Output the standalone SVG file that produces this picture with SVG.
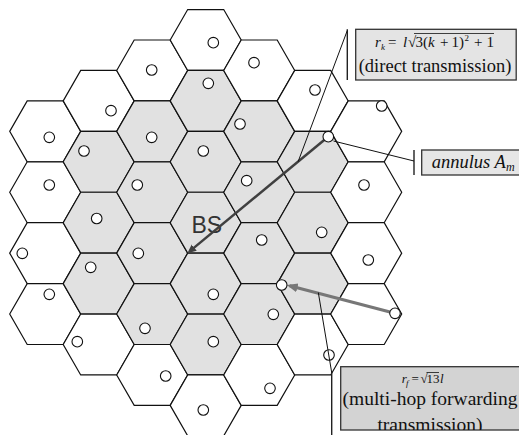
<svg xmlns="http://www.w3.org/2000/svg" width="519" height="435" viewBox="0 0 519 435">
<style>
.cell{stroke:#111;stroke-width:1.2}
.w{fill:#fff}
.g{fill:#e1e1e1}
.node circle{fill:#fff;stroke:#111;stroke-width:1.1}
.thin{stroke:#111;stroke-width:1;fill:none}
.bar{stroke:#222;stroke-width:1.4}
.box{stroke:#333;stroke-width:1.3}
.serif{font-family:"Liberation Serif","Times New Roman",serif;fill:#111}
.it{font-style:italic}
</style>
<defs>
<polygon id="hex" points="-35.5,0 -18,-30.45 18,-30.45 35.5,0 18,30.45 -18,30.45"/>
<marker id="ak" markerUnits="userSpaceOnUse" markerWidth="10" markerHeight="9" refX="6" refY="4" orient="auto"><path d="M0,0 L9,4 L0,8 z" fill="#404040"/></marker>
<marker id="af" markerUnits="userSpaceOnUse" markerWidth="12" markerHeight="10" refX="8" refY="4.5" orient="auto"><path d="M0,0 L11,4.5 L0,9 z" fill="#777"/></marker>
<clipPath id="cf"><rect x="340.7" y="366.7" width="180" height="63.3"/></clipPath>
</defs>

<g id="cells">
<use href="#hex" x="45.2" y="131.35" class="cell w"/>
<use href="#hex" x="45.2" y="192.25" class="cell w"/>
<use href="#hex" x="45.2" y="253.15" class="cell w"/>
<use href="#hex" x="45.2" y="314.05" class="cell w"/>
<use href="#hex" x="98.7" y="100.9" class="cell w"/>
<use href="#hex" x="98.7" y="161.8" class="cell g"/>
<use href="#hex" x="98.7" y="222.7" class="cell g"/>
<use href="#hex" x="98.7" y="283.6" class="cell g"/>
<use href="#hex" x="98.7" y="344.5" class="cell w"/>
<use href="#hex" x="152.2" y="70.45" class="cell w"/>
<use href="#hex" x="152.2" y="131.35" class="cell g"/>
<use href="#hex" x="152.2" y="192.25" class="cell g"/>
<use href="#hex" x="152.2" y="253.15" class="cell g"/>
<use href="#hex" x="152.2" y="314.05" class="cell g"/>
<use href="#hex" x="152.2" y="374.95" class="cell w"/>
<use href="#hex" x="205.7" y="40" class="cell w"/>
<use href="#hex" x="205.7" y="100.9" class="cell g"/>
<use href="#hex" x="205.7" y="161.8" class="cell g"/>
<use href="#hex" x="205.7" y="222.7" class="cell g"/>
<use href="#hex" x="205.7" y="283.6" class="cell g"/>
<use href="#hex" x="205.7" y="344.5" class="cell g"/>
<use href="#hex" x="205.7" y="405.4" class="cell w"/>
<use href="#hex" x="259.2" y="70.45" class="cell w"/>
<use href="#hex" x="259.2" y="131.35" class="cell g"/>
<use href="#hex" x="259.2" y="192.25" class="cell g"/>
<use href="#hex" x="259.2" y="253.15" class="cell g"/>
<use href="#hex" x="259.2" y="314.05" class="cell g"/>
<use href="#hex" x="259.2" y="374.95" class="cell w"/>
<use href="#hex" x="312.7" y="100.9" class="cell w"/>
<use href="#hex" x="312.7" y="161.8" class="cell g"/>
<use href="#hex" x="312.7" y="222.7" class="cell g"/>
<use href="#hex" x="312.7" y="283.6" class="cell g"/>
<use href="#hex" x="312.7" y="344.5" class="cell w"/>
<use href="#hex" x="366.2" y="131.35" class="cell w"/>
<use href="#hex" x="366.2" y="192.25" class="cell w"/>
<use href="#hex" x="366.2" y="253.15" class="cell w"/>
<use href="#hex" x="366.2" y="314.05" class="cell w"/>
</g>

<g id="bs">
<text x="191.5" y="233.3" font-family="'Liberation Sans', Arial, sans-serif" font-size="23" fill="#333">BS</text>
</g>

<g id="connectors">
<line x1="324.5" y1="139.8" x2="189.6" y2="251.4" stroke="#404040" stroke-width="2.5" marker-end="url(#ak)"/>
<line x1="390" y1="312" x2="289.6" y2="285.8" stroke="#777" stroke-width="3" marker-end="url(#af)"/>
</g>

<g id="nodes" class="node">
<g id="u1"><circle cx="49.3" cy="137.3" r="5.3"/></g>
<g id="u2"><circle cx="49.3" cy="185" r="5.3"/></g>
<g id="u3"><circle cx="22.3" cy="253.3" r="5.3"/></g>
<g id="u4"><circle cx="49.3" cy="294.3" r="5.3"/></g>
<g id="u5"><circle cx="111" cy="110.7" r="5.3"/></g>
<g id="u6"><circle cx="84" cy="151" r="5.3"/></g>
<g id="u7"><circle cx="96.7" cy="218.5" r="5.3"/></g>
<g id="u8"><circle cx="90.7" cy="267.3" r="5.3"/></g>
<g id="u9"><circle cx="77.3" cy="341.7" r="5.3"/></g>
<g id="u10"><circle cx="151.7" cy="70" r="5.3"/></g>
<g id="u11"><circle cx="151.7" cy="137.3" r="5.3"/></g>
<g id="u12"><circle cx="137.3" cy="185" r="5.3"/></g>
<g id="u13"><circle cx="138.3" cy="253.3" r="5.3"/></g>
<g id="u14"><circle cx="145" cy="328.3" r="5.3"/></g>
<g id="u15"><circle cx="165.7" cy="376" r="5.3"/></g>
<g id="u16"><circle cx="213.3" cy="42.7" r="5.3"/></g>
<g id="u17"><circle cx="208.3" cy="83.3" r="5.3"/></g>
<g id="u18"><circle cx="203.3" cy="151" r="5.3"/></g>
<g id="u19"><circle cx="213.3" cy="294.3" r="5.3"/></g>
<g id="u20"><circle cx="213.3" cy="341.7" r="5.3"/></g>
<g id="u21"><circle cx="203.3" cy="410" r="5.3"/></g>
<g id="u22"><circle cx="254" cy="62.7" r="5.3"/></g>
<g id="u23"><circle cx="240" cy="124" r="5.3"/></g>
<g id="u24"><circle cx="246.7" cy="180.7" r="5.3"/></g>
<g id="u25"><circle cx="261.7" cy="240" r="5.3"/></g>
<g id="u26"><circle cx="273.3" cy="314.3" r="5.3"/></g>
<g id="u27"><circle cx="270" cy="388.3" r="5.3"/></g>
<g id="u28"><circle cx="315" cy="90" r="5.3"/></g>
<g id="u29"><circle cx="328.3" cy="136.7" r="5.3"/></g>
<g id="u30"><circle cx="321.7" cy="232.3" r="5.3"/></g>
<g id="u31"><circle cx="281.7" cy="285" r="5.3"/></g>
<g id="u32"><circle cx="329" cy="355" r="5.3"/></g>
<g id="u33"><circle cx="381.7" cy="106" r="5.3"/></g>
<g id="u34"><circle cx="364" cy="185" r="5.3"/></g>
<g id="u35"><circle cx="368.3" cy="260" r="5.3"/></g>
<g id="u36"><circle cx="395" cy="313.3" r="5.3"/></g>
</g>

<g id="callouts">
<line class="bar" x1="347.3" y1="29.3" x2="347.3" y2="80"/>
<line class="thin" x1="347.3" y1="30.5" x2="298.1" y2="161.7"/>
<line class="bar" x1="414" y1="150" x2="414" y2="175"/>
<line class="thin" x1="333.5" y1="141" x2="414" y2="161"/>
<line class="bar" x1="331.7" y1="372" x2="331.7" y2="435"/>
<line class="thin" x1="318.3" y1="292.5" x2="331.7" y2="372.5"/>
</g>

<g id="label-rk">
<rect class="box" x="355.7" y="29.3" width="160.5" height="50.7" fill="#e4e4e4"/>
<text class="serif" y="46.7" font-size="15">
<tspan class="it" x="375">r</tspan><tspan class="it" x="381" dy="3" font-size="9">k</tspan><tspan x="388" dy="-3">=</tspan><tspan class="it" x="403">l</tspan><tspan x="408">√</tspan><tspan x="415.5">3</tspan><tspan x="423">(</tspan><tspan class="it" x="428">k</tspan><tspan x="440">+</tspan><tspan x="451.5">1</tspan><tspan x="459">)</tspan><tspan x="464.5" dy="-6" font-size="9">2</tspan><tspan x="474" dy="6">+</tspan><tspan x="486.5">1</tspan>
</text>
<line x1="414" y1="33.5" x2="494" y2="33.5" stroke="#111" stroke-width="0.8"/>
<text class="serif" x="435" y="71.7" font-size="18.5" text-anchor="middle">(direct transmission)</text>
</g>

<g id="label-annulus">
<rect class="box" x="421.7" y="150" width="100" height="25" fill="#e6e6e6"/>
<text class="serif it" x="431.7" y="168.3" font-size="18.5">annulus A<tspan font-size="12" dy="3">m</tspan></text>
</g>

<g id="label-rf">
<rect class="box" x="340.7" y="366.7" width="180" height="63.3" fill="#d3d3d3"/>
<g clip-path="url(#cf)">
<text class="serif" y="383.3" font-size="13">
<tspan class="it" x="401.7">r</tspan><tspan class="it" x="406" dy="3" font-size="9">f</tspan><tspan x="411.5" dy="-3">=</tspan><tspan x="420.5">√</tspan><tspan x="426.5">13</tspan><tspan class="it" x="440">l</tspan>
</text>
<line x1="426.5" y1="372.5" x2="439" y2="372.5" stroke="#111" stroke-width="0.8"/>
<text class="serif" x="430" y="405" font-size="19.5" text-anchor="middle">(multi-hop forwarding</text>
<text class="serif" x="430" y="430.5" font-size="19.5" text-anchor="middle">transmission)</text>
</g>
</g>
</svg>
